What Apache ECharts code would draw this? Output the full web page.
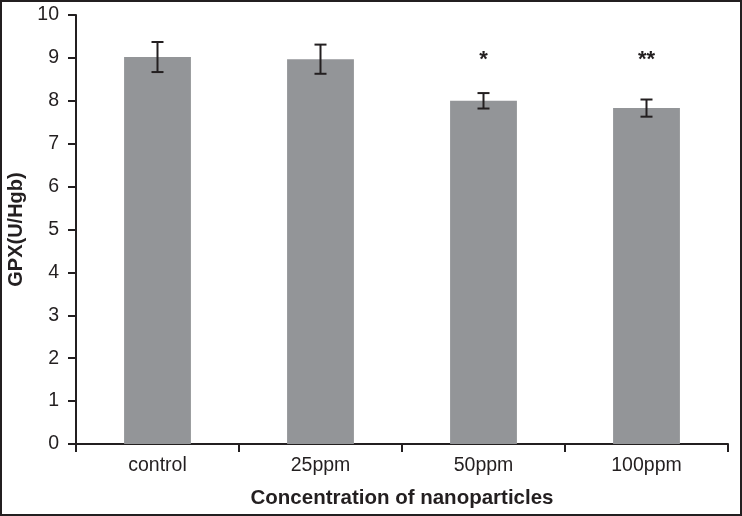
<!DOCTYPE html>
<html><head><meta charset="utf-8">
<script src="https://cdn.jsdelivr.net/npm/echarts@6/dist/echarts.min.js"></script>
<style>html,body{margin:0;padding:0;background:#fff}#c{width:742px;height:516px;box-sizing:border-box;border:2px solid #231f20}</style>
</head><body><div id="c"></div>
<script>
var categories = ['control', '25ppm', '50ppm', '100ppm'];
var means = [9.02, 8.97, 8.0, 7.83];
var errors = [0.35, 0.34, 0.18, 0.2];
var sigLabels = ['', '', '*', '**'];
var sigLevel = 8.95;
var yTicks = [0, 10, 1];

var chart = echarts.init(document.getElementById('c'));
var font = 'Liberation Sans';
chart.setOption({
  animation: false,
  grid: {left: 74, right: 12, top: 13, bottom: 70, outerBoundsMode: 'none', containLabel: false},
  xAxis: {
    type: 'category', data: categories,
    axisLine: {lineStyle: {color: '#231f20', width: 2}},
    axisTick: {show: true, length: 8, lineStyle: {color: '#231f20', width: 2}},
    axisLabel: {color: '#231f20', fontSize: 19.5, fontFamily: font, margin: 12},
    name: 'Concentration of nanoparticles', nameLocation: 'middle', nameGap: 44,
    nameTextStyle: {color: '#231f20', fontSize: 20.5, fontWeight: 'bold', fontFamily: font}
  },
  yAxis: {
    type: 'value', min: yTicks[0], max: yTicks[1], interval: yTicks[2],
    splitLine: {show: false},
    axisLine: {show: true, lineStyle: {color: '#231f20', width: 2}},
    axisTick: {show: true, length: 8, lineStyle: {color: '#231f20', width: 2}},
    axisLabel: {color: '#231f20', fontSize: 19.5, fontFamily: font, margin: 17},
    name: 'GPX(U/Hgb)', nameLocation: 'middle', nameGap: 48,
    nameTextStyle: {color: '#231f20', fontSize: 20, fontWeight: 'bold', fontFamily: font}
  },
  series: [
    {type: 'bar', data: means, barWidth: '41%', itemStyle: {color: '#939598'}},
    {type: 'custom', z: 5,
     data: means.map(function (m, i) { return [i, m, errors[i]]; }),
     renderItem: function (params, api) {
       var i = api.value(0), m = api.value(1), e = api.value(2);
       var hi = api.coord([i, m + e]), lo = api.coord([i, m - e]);
       var hw = 6;
       var st = {stroke: '#231f20', lineWidth: 2};
       return {type: 'group', children: [
         {type: 'line', shape: {x1: hi[0], y1: hi[1], x2: lo[0], y2: lo[1]}, style: st},
         {type: 'line', shape: {x1: hi[0] - hw, y1: hi[1], x2: hi[0] + hw, y2: hi[1]}, style: st},
         {type: 'line', shape: {x1: lo[0] - hw, y1: lo[1], x2: lo[0] + hw, y2: lo[1]}, style: st}
       ]};
     }},
    {type: 'custom', z: 6,
     data: sigLabels.map(function (s, i) { return [i, sigLevel]; }),
     renderItem: function (params, api) {
       var p = api.coord([api.value(0), api.value(1)]);
       return {type: 'text', x: p[0], y: p[1], style: {
         text: sigLabels[params.dataIndex], fill: '#231f20', fontSize: 22, fontWeight: 'bold',
         fontFamily: font, align: 'center', verticalAlign: 'middle'}};
     }}
  ]
});
</script></body></html>
